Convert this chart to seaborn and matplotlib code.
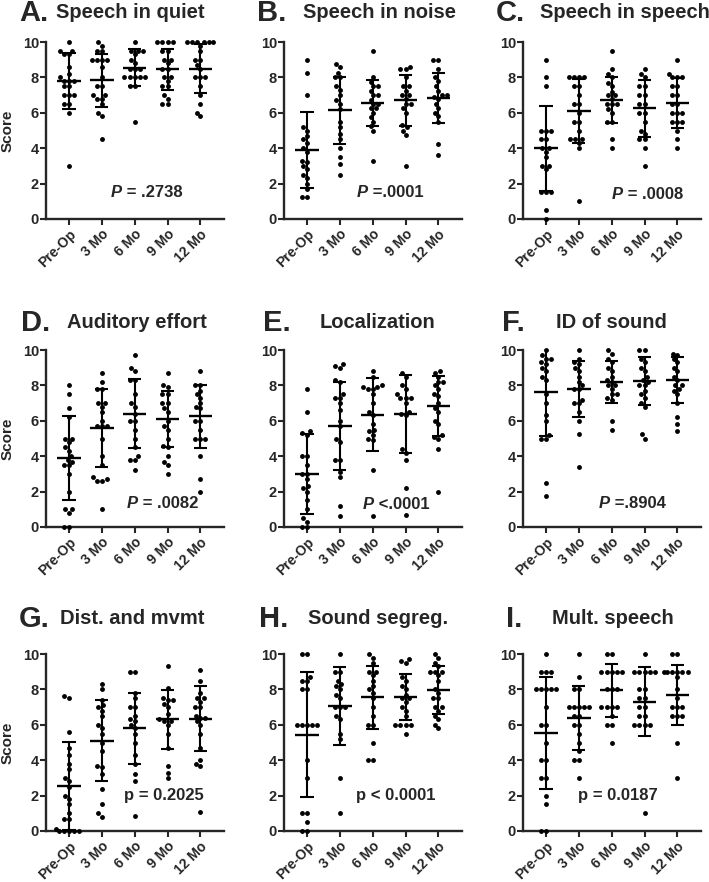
import pandas as pd
import matplotlib
matplotlib.use("Agg")
import matplotlib.pyplot as plt
import seaborn as sns

sns.set_style("ticks")
plt.rcParams['font.family'] = ['Liberation Sans', 'DejaVu Sans']
plt.rcParams['font.weight'] = 'bold'

groups = ["Pre-Op", "3 Mo", "6 Mo", "9 Mo", "12 Mo"]

# A. Speech in quiet
quiet = [
    [10, 9.5, 9.5, 9.3, 9.3, 8.6, 8.2, 8, 7.8, 7.8, 7.8, 7.5, 7.5, 7, 7, 7, 6.5, 6.5, 6, 3],
    [10, 9.8, 9.5, 9.5, 9, 9, 9, 9, 8.6, 8, 7.5, 7.5, 7, 7, 6.8, 6.8, 6.5, 6, 5.8, 4.5],
    [10, 9.5, 9.5, 9.5, 9.3, 9, 8.8, 8.5, 8.5, 8.5, 8, 8, 8, 8, 8, 7.5, 7.5, 5.5],
    [10, 10, 10, 10, 9.5, 9.5, 9, 9, 8.8, 8.5, 8.5, 8, 8, 7.8, 7.5, 7.5, 7, 6.8, 6.5, 6.5],
    [10, 10, 10, 10, 10, 10, 9.8, 9.5, 9, 9, 8.7, 8.5, 8, 8, 8, 7.5, 7, 6.5, 6, 5.8],
]
quiet_mean = [7.8, 7.85, 8.55, 8.45, 8.5]
quiet_sd = [1.6, 1.5, 1.05, 1.15, 1.4]

# B. Speech in noise
noise = [
    [9, 8.25, 7, 5.2, 5, 4.7, 4.5, 4.3, 4, 3.8, 3.3, 3.2, 3, 2.8, 2.5, 2.3, 2, 1.7, 1.25, 1.25],
    [8.75, 8.6, 8.25, 8, 8, 7.5, 7.3, 7, 6.7, 6.5, 6.2, 5.5, 5.2, 4.8, 4.5, 4.0, 3.5, 3.1, 2.5],
    [9.5, 8, 7.75, 7.5, 7.5, 7.25, 7, 7, 6.75, 6.5, 6.5, 6.25, 6.25, 6, 5.75, 5.5, 5.25, 5, 3.25],
    [8.6, 8.5, 8.5, 8, 7.5, 7.5, 7.25, 7, 7, 6.8, 6.5, 6.5, 6.25, 6, 5.3, 5.2, 5, 4.75, 3],
    [9, 9, 8.5, 8, 7.8, 7.5, 7.25, 7, 7, 6.9, 6.8, 6.5, 6.25, 6, 5.8, 5.5, 4.25, 3.6],
]
noise_mean = [3.9, 6.15, 6.55, 6.7, 6.85]
noise_sd = [2.15, 1.9, 1.3, 1.45, 1.4]

# C. Speech in speech
speech = [
    [9, 8, 7.5, 5, 5, 5, 4.5, 4.5, 4, 4, 3.8, 3.5, 3, 3, 2.8, 1.5, 1.5, 1.5, 0.5, 0],
    [8, 8, 8, 8, 7.5, 7.5, 7, 6.5, 6.5, 6, 5.5, 5.5, 5, 4.5, 4.5, 4.5, 4.3, 4, 1],
    [9.5, 8.5, 8.2, 8, 7.7, 7.5, 7.2, 7, 7, 6.8, 6.5, 6.5, 6.5, 6.2, 6, 5.5, 5.5, 4.5, 4],
    [8.5, 8.2, 8, 7.5, 7.5, 7, 7, 6.5, 6.5, 6, 6, 5.5, 5, 4.8, 4.5, 4.5, 4, 3],
    [9, 8.2, 8, 8, 8, 7.5, 7.5, 7, 7, 6.5, 6.5, 6, 6, 6, 5.5, 5.5, 5.5, 5, 4.5, 4],
]
speech_mean = [4.0, 6.1, 6.75, 6.25, 6.55]
speech_sd = [2.4, 1.8, 1.3, 1.6, 1.4]

# D. Auditory effort
effort = [
    [8, 7.5, 6.7, 6.2, 5, 5, 4.8, 4.5, 4.3, 4, 3.8, 3.7, 3.5, 3.5, 3, 2, 1, 1, 0.8, 0, 0],
    [8.7, 8.2, 7.8, 7.8, 7, 7, 6.8, 6.5, 6, 5.7, 5.7, 5.7, 5, 4, 3.5, 2.8, 2.7, 2.6, 2.6, 1],
    [9.7, 9, 8.8, 8.3, 8.3, 7.5, 7, 6.8, 6.4, 6, 6, 5.5, 5, 4.5, 4, 3.8, 3.8, 3.2],
    [8.7, 8, 7.9, 7.5, 7.5, 7, 7, 6.7, 6.5, 6, 5.7, 5.5, 5, 4.6, 4.5, 4, 3.7, 3.5, 3],
    [8.8, 8, 8, 7.7, 7.5, 7.3, 7, 6.8, 6.7, 6, 6, 5.5, 5, 5, 5, 4, 2.7, 2],
]
effort_mean = [3.9, 5.6, 6.4, 6.1, 6.25]
effort_sd = [2.35, 2.2, 1.95, 1.6, 1.8]

# E. Localization
local = [
    [7.8, 6.5, 5.4, 5.3, 5.2, 4, 4, 3.5, 3, 3, 2.7, 2.3, 2.2, 2, 1.5, 1, 0.5, 0.3, 0, 0],
    [9.2, 9.1, 9, 8.3, 8.2, 7.5, 7.3, 7.3, 7, 6.6, 6, 5.7, 5, 4.8, 3.8, 3.8, 3.1, 2.8, 1.2, 0.6],
    [8.8, 8.5, 8, 7.9, 7.9, 7.8, 7.8, 7.5, 7, 6.5, 6.3, 5.8, 5.5, 5.4, 5.2, 5, 4.9, 3.2, 0.6],
    [8.7, 8.5, 8.0, 7.8, 7.5, 7.3, 7.3, 7.3, 7, 6.5, 6.4, 6.3, 4.4, 4.2, 3.8, 2.2, 0.7],
    [8.8, 8.7, 8.5, 8.2, 8.2, 8, 7.8, 7.5, 7.4, 7, 6.7, 6.5, 6, 5.8, 5.2, 5.1, 5, 4.4, 2],
]
local_mean = [3.0, 5.7, 6.35, 6.4, 6.85]
local_sd = [2.25, 2.5, 2.05, 2.2, 1.7]

# F. ID of sound
ident = [
    [10, 9.7, 9.5, 9.5, 9.3, 9.2, 9, 8.8, 8.5, 8.3, 7.5, 7, 6.3, 6, 5.2, 5, 5, 2.5, 1.75],
    [10, 9.5, 9.3, 9.2, 9, 8.8, 8.5, 8.2, 8, 7.8, 7.8, 7.2, 7, 7, 6.5, 6, 5.25, 3.4],
    [10, 9.8, 9.5, 9.3, 9, 8.8, 8.5, 8.3, 8.2, 8, 8, 7.8, 7.5, 7.5, 7.3, 7.2, 6, 5.5],
    [10, 10, 9.5, 9.3, 9, 8.8, 8.5, 8.3, 8.2, 8, 8, 7.7, 7.5, 7.3, 7, 6.8, 5.25, 5],
    [9.8, 9.7, 9.5, 9.3, 9, 8.8, 8.5, 8.3, 8, 8, 7.8, 7.7, 7.5, 7, 6.2, 5.8, 5.4],
]
ident_mean = [7.6, 7.8, 8.2, 8.25, 8.3]
ident_sd = [2.45, 1.6, 1.2, 1.35, 1.3]

# G. Dist. and mvmt
dist = [
    [7.6, 7.5, 5.6, 4.7, 4.3, 3.8, 3.5, 3, 2.8, 2.5, 2, 1.8, 1.5, 1, 0.7, 0.7, 0.1, 0, 0, 0, 0, 0],
    [8.3, 8, 7.4, 7.1, 7, 6.8, 6.5, 6, 5.8, 5.5, 5, 4.5, 3.7, 3.6, 3.2, 2.4, 1.5, 1, 0.8],
    [9, 9, 7.8, 7.5, 7, 7, 6.5, 6.3, 6.2, 6, 5.8, 5.5, 5, 4.3, 3.8, 3.2, 2.8, 0.85],
    [9.3, 8.1, 7.5, 7.4, 7.4, 7.2, 7, 6.6, 6.3, 6.2, 6.2, 6.0, 5.5, 4.7, 3.7, 3.3, 3.0],
    [9.1, 8.5, 7.8, 7.5, 7.5, 7.3, 7, 7, 6.5, 6.4, 6.4, 6.2, 6, 5.5, 4.7, 4, 3.8, 3.7, 1.1],
]
dist_mean = [2.55, 5.1, 5.8, 6.3, 6.35]
dist_sd = [2.5, 2.3, 2.0, 1.65, 1.85]

# H. Sound segreg.
segreg = [
    [10, 10, 8.7, 8.5, 8.5, 8, 8, 6, 6, 6, 6, 6, 4, 3, 1, 1, 0.5, 0, 0],
    [10, 9, 9, 8.5, 8.3, 8.2, 8, 7.7, 7.5, 7, 7, 7, 6.5, 6.3, 5.5, 5.2, 3, 1],
    [10, 9.8, 9.5, 9, 9, 8.8, 8.5, 8.2, 8, 7.8, 7.5, 7, 6.5, 6, 6, 5, 4, 4],
    [9.7, 9.5, 9.6, 8.7, 8.5, 8.2, 8, 7.7, 7.5, 7.5, 7.3, 7, 6.8, 6.5, 6, 6, 6, 6, 5.5],
    [10, 9.8, 9.5, 9.3, 9, 9, 9, 8.8, 8.5, 8, 7.8, 7.5, 7.5, 7, 7, 6.8, 6.5, 6.3, 6, 5.8],
]
segreg_mean = [5.45, 7.05, 7.55, 7.55, 7.95]
segreg_sd = [3.55, 2.2, 1.8, 1.3, 1.35]

# I. Mult. speech
mult = [
    [10, 9, 9, 9, 8, 8, 8, 8, 8, 7, 6, 6, 5, 4, 4, 3, 3, 2, 1.5, 0, 0],
    [10, 8.7, 8, 8, 7, 7, 7, 7, 7, 6.5, 6.5, 6, 6, 5.5, 5, 4.5, 4, 4, 3],
    [10, 10, 9, 9, 9, 9, 9, 8, 8, 8, 7, 7, 7, 7, 6.5, 6, 6, 5],
    [10, 9, 9, 9, 9, 9, 8, 8, 7.5, 7.5, 7, 7, 6.5, 6.5, 6, 6, 6, 6, 1],
    [10, 10, 9, 9, 9, 9, 9, 9, 8.7, 8, 7.5, 7, 7, 7, 6.5, 6.5, 6.5, 5, 3],
]
mult_mean = [5.55, 6.4, 7.95, 7.3, 7.7]
mult_sd = [3.15, 1.8, 1.5, 1.95, 1.7]

panels = [
    ("A.", "Speech in quiet", quiet, quiet_mean, quiet_sd, "P", " = .2738", 2.35, 1.5),
    ("B.", "Speech in noise", noise, noise_mean, noise_sd, "P", " =.0001", 2.6, 1.5),
    ("C.", "Speech in speech", speech, speech_mean, speech_sd, "P", " = .0008", 3.1, 1.4),
    ("D.", "Auditory effort", effort, effort_mean, effort_sd, "P", " = .0082", 2.85, 1.35),
    ("E.", "Localization", local, local_mean, local_sd, "P", " <.0001", 2.8, 1.25),
    ("F.", "ID of sound", ident, ident_mean, ident_sd, "P", " =.8904", 2.7, 1.3),
    ("G.", "Dist. and mvmt", dist, dist_mean, dist_sd, None, "p = 0.2025", 2.9, 2.0),
    ("H.", "Sound segreg.", segreg, segreg_mean, segreg_sd, None, "p < 0.0001", 2.7, 2.0),
    ("I.", "Mult. speech", mult, mult_mean, mult_sd, None, "p = 0.0187", 2.2, 2.0),
]

W, H = 709, 882
fig = plt.figure(figsize=(W / 100, H / 100), dpi=100)

col_left = [46, 284, 523]
row_top = [42, 350, 654]
ax_w, ax_h = 178, 177
letter_x = [[19, 257, 496], [21, 263, 502], [19, 259, 506]]
title_x = [[56, 303, 540], [67, 320, 556], [60, 308, 552]]
title_y = [13, 323, 619]

for i, (letter, title, values, means, sds, pitalic, ptext, px, py) in enumerate(panels):
    r, c = divmod(i, 3)
    l, t = col_left[c], row_top[r]
    ax = fig.add_axes([l / W, 1 - (t + ax_h) / H, ax_w / W, ax_h / H])

    df = pd.DataFrame({
        "group": [g for g, v in zip(groups, values) for _ in v],
        "score": [x for v in values for x in v],
    })
    sns.swarmplot(data=df, x="group", y="score", order=groups, color="black",
                  size=3.5, linewidth=0, ax=ax, clip_on=False, zorder=3)

    xs = range(len(groups))
    lo = [m - s for m, s in zip(means, sds)]
    hi = [m + s for m, s in zip(means, sds)]
    ax.vlines(xs, lo, hi, color="black", lw=1.5, zorder=4)
    ax.hlines(means, [x - 0.36 for x in xs], [x + 0.36 for x in xs], color="black", lw=1.7, zorder=4)
    ax.hlines(lo, [x - 0.2 for x in xs], [x + 0.2 for x in xs], color="black", lw=1.5, zorder=4)
    ax.hlines(hi, [x - 0.2 for x in xs], [x + 0.2 for x in xs], color="black", lw=1.5, zorder=4)

    ax.set_xlim(-0.7, 4.72)
    ax.set_ylim(0, 10)
    ax.set_yticks([0, 2, 4, 6, 8, 10])
    ax.set_xticks(list(xs))
    ax.set_xticklabels(groups, rotation=45, ha="right", rotation_mode="anchor",
                       fontsize=10, fontweight="bold")
    ax.tick_params(axis="y", labelsize=10.5, length=4, width=1.5, pad=1)
    ax.tick_params(axis="x", length=4, width=1.5, pad=2)
    for lab in ax.get_yticklabels():
        lab.set_fontweight("bold")
    sns.despine(ax=ax)
    for sp in ["left", "bottom"]:
        ax.spines[sp].set_linewidth(1.7)
    ax.set_xlabel("")
    if c == 0:
        ax.set_ylabel("Score", fontsize=11, fontweight="bold")
        ax.yaxis.set_label_coords(-0.175, 0.5)
    else:
        ax.set_ylabel("")

    if pitalic:
        split = px - 0.75
        ax.text(split, py, pitalic, ha="right", va="center", fontsize=12,
                fontweight="bold", fontstyle="italic")
        ax.text(split, py, ptext, ha="left", va="center", fontsize=12, fontweight="bold")
    else:
        ax.text(px, py, ptext, ha="center", va="center", fontsize=12, fontweight="bold")

    fig.text(letter_x[r][c] / W, 1 - title_y[r] / H, letter, ha="left", va="center",
             fontsize=21, fontweight="bold")
    fig.text(title_x[r][c] / W, 1 - title_y[r] / H, title, ha="left", va="center",
             fontsize=14.5, fontweight="bold")

fig.savefig("out.png", dpi=100)
